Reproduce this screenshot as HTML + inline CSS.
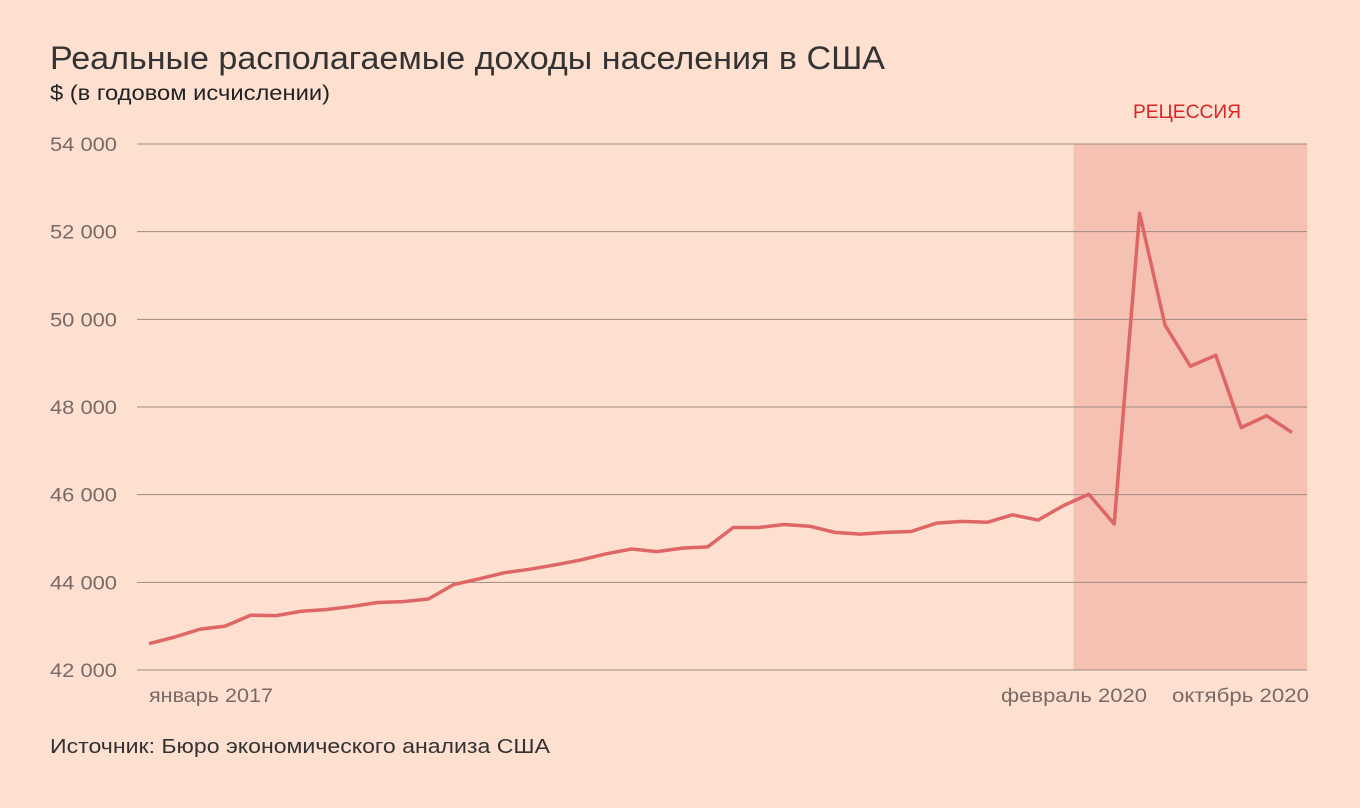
<!DOCTYPE html>
<html><head><meta charset="utf-8"><style>
body{margin:0;background:#fde0d0;}
svg{display:block;font-family:"Liberation Sans",sans-serif;}
</style></head><body>
<svg width="1360" height="808" viewBox="0 0 1360 808">
<rect width="1360" height="808" fill="#fde0d0"/>
<text x="50" y="69" font-size="32" fill="#333" textLength="835" lengthAdjust="spacingAndGlyphs">Реальные располагаемые доходы населения в США</text>
<text x="50" y="100" font-size="21" fill="#222" textLength="280" lengthAdjust="spacingAndGlyphs">$ (в годовом исчислении)</text>
<g id="plot"></g>
<text x="50" y="753" font-size="20" fill="#333" textLength="500" lengthAdjust="spacingAndGlyphs">Источник: Бюро экономического анализа США</text>
</svg>
<script>
const values=[42600,42750,42930,43000,43250,43240,43340,43380,43450,43540,43560,43620,43950,44080,44220,44300,44400,44510,44650,44760,44700,44780,44810,45250,45250,45320,45280,45140,45100,45140,45160,45350,45390,45370,45540,45420,45750,46010,45330,52420,49870,48930,49180,47530,47800,47420];
const yTicks=[42000,44000,46000,48000,50000,52000,54000];
const xLabels=[[0,"январь 2017"],[37,"февраль 2020"],[45,"октябрь 2020"]];
const recessionStart=36.4, recessionEnd=45.6;
const NS="http://www.w3.org/2000/svg";
const g=document.getElementById('plot');
const x=i=>149+i*(1292-149)/45;
const y=v=>670-(v-42000)*(526/12000);
function mk(t,a){const e=document.createElementNS(NS,t);for(const k in a)e.setAttribute(k,a[k]);g.appendChild(e);return e;}
const r=mk('rect',{x:x(recessionStart),y:y(54000),width:x(recessionEnd)-x(recessionStart),height:y(42000)-y(54000),fill:'#f4c1b3'});


const rl=mk('text',{x:1133,y:118,'font-size':19,fill:'#d9252a',textLength:108,lengthAdjust:'spacingAndGlyphs'});
rl.textContent='РЕЦЕССИЯ';


yTicks.forEach(v=>{
const l=mk('line',{x1:137,x2:1307,y1:y(v),y2:y(v),stroke:'#a08a82','stroke-width':1});


const t=mk('text',{x:50,y:y(v)+7,'font-size':19,fill:'#7a6a66',textLength:67,lengthAdjust:'spacingAndGlyphs'});
t.textContent=String(v).replace(/(\d{2})(\d{3})/,'$1 $2');


});
const xPos=[[149,124],[1001,146],[1172,137]];
xLabels.forEach(([i,s],k)=>{
const t=mk('text',{x:xPos[k][0],y:702,'font-size':19,fill:'#7a6a66',textLength:xPos[k][1],lengthAdjust:'spacingAndGlyphs'});
t.textContent=s;


});
const p=mk('polyline',{points:values.map((v,i)=>x(i)+','+y(v)).join(' '),fill:'none',stroke:'#de6766','stroke-width':3.5,'stroke-linejoin':'round'});


</script>
</body></html>
